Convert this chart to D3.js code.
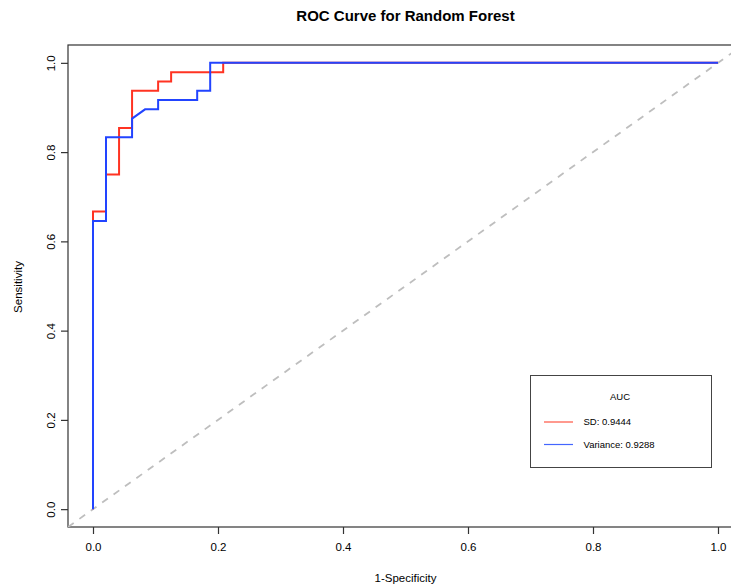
<!DOCTYPE html>
<html>
<head>
<meta charset="utf-8">
<script src="https://d3js.org/d3.v7.min.js"></script>
<style>
  body { margin: 0; background: #fff; }
  text { font-family: "Liberation Sans", Arial, sans-serif; fill: #000; }
</style>
</head>
<body>
<div id="chart"></div>
<script>
// ROC points (1-specificity, sensitivity)
const sdFpr  = [0, 0, 0.0208, 0.0208, 0.0417, 0.0417, 0.0625, 0.0625, 0.1042, 0.1042, 0.125, 0.125, 0.2083, 0.2083, 1];
const sdTpr  = [0, 0.6667, 0.6667, 0.75, 0.75, 0.8542, 0.8542, 0.9375, 0.9375, 0.9583, 0.9583, 0.9792, 0.9792, 1, 1];
const varFpr = [0, 0, 0.0208, 0.0208, 0.0625, 0.0625, 0.0833, 0.1042, 0.1042, 0.1667, 0.1667, 0.1875, 0.1875, 1];
const varTpr = [0, 0.6458, 0.6458, 0.8333, 0.8333, 0.875, 0.8958, 0.8958, 0.9167, 0.9167, 0.9375, 0.9375, 1, 1];
const ticks = [0, 0.2, 0.4, 0.6, 0.8, 1.0];
const legendLabels = ["SD: 0.9444", "Variance: 0.9288"];

const w = 731, h = 587;
const x = d3.scaleLinear().domain([-0.04, 1.04]).range([68, 743]);
const y = d3.scaleLinear().domain([-0.04, 1.04]).range([527, 45]);

const svg = d3.select("#chart").append("svg")
  .attr("width", w).attr("height", h);

svg.append("text")
  .attr("x", 405.5).attr("y", 21)
  .attr("text-anchor", "middle")
  .style("font-weight", "bold").style("font-size", "15px")
  .text("ROC Curve for Random Forest");

// plot box
svg.append("rect")
  .attr("x", x(-0.04)).attr("y", y(1.04))
  .attr("width", x(1.04) - x(-0.04)).attr("height", y(-0.04) - y(1.04))
  .attr("fill", "none").attr("stroke", "#333").attr("stroke-width", 1.2);

// axes
const xAxis = svg.append("g")
  .attr("transform", "translate(0," + y(-0.04) + ")")
  .call(d3.axisBottom(x).tickValues(ticks).tickFormat(d3.format(".1f")).tickSize(7).tickPadding(9));
const yAxis = svg.append("g")
  .attr("transform", "translate(" + x(-0.04) + ",0)")
  .call(d3.axisLeft(y).tickValues(ticks).tickFormat(d3.format(".1f")).tickSize(7).tickPadding(0));
[xAxis, yAxis].forEach(g => {
  g.select(".domain").remove();
  g.selectAll("line").attr("stroke", "#333").attr("stroke-width", 1.2);
  g.selectAll("text").style("font-size", "11.5px").attr("fill", "#000");
});
yAxis.selectAll(".tick text")
  .attr("x", 0)
  .attr("text-anchor", "middle")
  .attr("transform", "translate(-17,0) rotate(-90)")
  .attr("dy", "0.35em");

// axis titles
svg.append("text")
  .attr("x", 405.5).attr("y", 582)
  .attr("text-anchor", "middle").style("font-size", "11.5px")
  .text("1-Specificity");
svg.append("text")
  .attr("transform", "translate(22,287) rotate(-90)")
  .attr("text-anchor", "middle").style("font-size", "11.5px")
  .text("Sensitivity");

// diagonal reference
svg.append("clipPath").attr("id", "clip")
  .append("rect")
  .attr("x", x(-0.04)).attr("y", y(1.04))
  .attr("width", x(1.04) - x(-0.04)).attr("height", y(-0.04) - y(1.04));
svg.append("line")
  .attr("clip-path", "url(#clip)")
  .attr("x1", x(-0.04)).attr("y1", y(-0.04))
  .attr("x2", x(1.04)).attr("y2", y(1.04))
  .attr("stroke", "#bebebe").attr("stroke-width", 1.8)
  .attr("stroke-dasharray", "7,7");

const line = d3.line().x(d => x(d[0])).y(d => y(d[1]));
svg.append("path")
  .datum(d3.zip(sdFpr, sdTpr))
  .attr("d", line).attr("fill", "none")
  .attr("stroke", "#ff3322").attr("stroke-width", 2);
svg.append("path")
  .datum(d3.zip(varFpr, varTpr))
  .attr("d", line).attr("fill", "none")
  .attr("stroke", "#2244ff").attr("stroke-width", 2);

// legend
const lg = svg.append("g");
lg.append("rect")
  .attr("x", 530.5).attr("y", 375.5).attr("width", 181).attr("height", 92)
  .attr("fill", "#fff").attr("stroke", "#444").attr("stroke-width", 1);
lg.append("text")
  .attr("x", 620).attr("y", 400)
  .attr("text-anchor", "middle").style("font-size", "9.5px")
  .text("AUC");
const legendColors = ["#ff5544", "#4466ff"];
legendLabels.forEach((t, i) => {
  const ly = 422 + i * 22.5;
  lg.append("path")
    .attr("d", "M544," + ly + "H573")
    .style("stroke", legendColors[i]).style("stroke-width", "1.2px")
    .style("fill", "none");
  lg.append("text")
    .attr("x", 583.5).attr("y", ly + 3.3)
    .style("font-size", "9.5px")
    .text(t);
});
</script>
</body>
</html>
